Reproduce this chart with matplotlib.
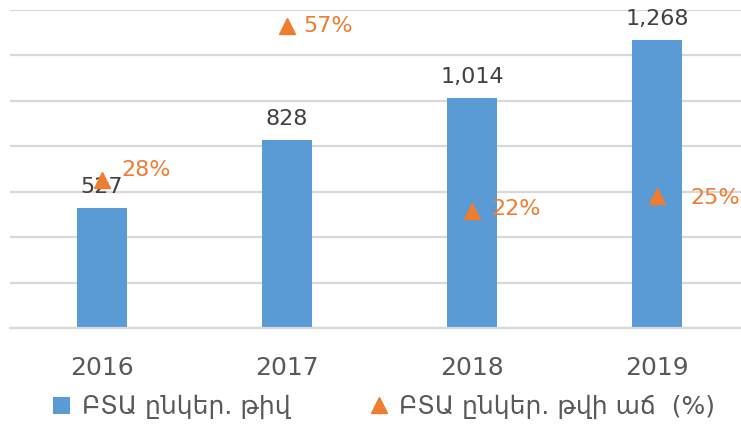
import matplotlib
matplotlib.use("Agg")
import matplotlib.pyplot as plt
from matplotlib.lines import Line2D
from matplotlib.patches import Patch

years = ["2016", "2017", "2018", "2019"]
company_count = [527, 828, 1014, 1268]
growth_pct = [28, 57, 22, 25]

bar_label = "ԲՏԱ ընկեր. թիվ"
growth_label = "ԲՏԱ ընկեր. թվի աճ  (%)"

BLUE = "#5B9BD5"
ORANGE = "#ED7D31"
GRID = "#D9D9D9"

plt.rcParams["font.family"] = ["DejaVu Sans"]

fig = plt.figure(figsize=(7.41, 4.28), dpi=100)
ax = fig.add_axes([9.5 / 741, 1 - 328 / 428, 740 / 741, 318 / 428])
ax2 = ax.twinx()

x = list(range(len(years)))
ax.bar(x, company_count, width=0.27, color=BLUE, zorder=2)
ax.set_xlim(-0.5, len(years) - 0.5)
ax.set_ylim(0, 1400)
ax.set_yticks(range(0, 1401, 200))
ax.yaxis.grid(True, color=GRID, linewidth=1.6, zorder=0)
ax.set_axisbelow(True)
ax.tick_params(axis="y", left=False, labelleft=False)
ax.set_xticks(x)
ax.set_xticklabels(years, fontsize=18, color="#595959")
ax.tick_params(axis="x", length=0, pad=20)
for side in ("top", "right", "left"):
    ax.spines[side].set_visible(False)
ax.spines["bottom"].set_color(GRID)
ax.spines["bottom"].set_linewidth(1.6)

for xi, v in zip(x, company_count):
    ax.annotate(f"{v:,}", (xi, v), xytext=(0, 15), textcoords="offset points",
                ha="center", va="center", fontsize=16, color="#404040")

ax2.plot(x, growth_pct, linestyle="none", marker="^", markersize=12,
         color=ORANGE, zorder=3)
ax2.set_ylim(0, 60)
ax2.axis("off")

pct_offsets = [(14, 7), (12, 0), (14, 2), (24, -2)]
for xi, v, (dx, dy) in zip(x, growth_pct, pct_offsets):
    ax2.annotate(f"{v}%", (xi, v), xytext=(dx, dy), textcoords="offset points",
                 ha="left", va="center", fontsize=16, color=ORANGE)

handles = [
    Patch(facecolor=BLUE, edgecolor="none"),
    Line2D([], [], linestyle="none", marker="^", markersize=11, color=ORANGE),
]
fig.legend(handles, [bar_label, growth_label], loc="center",
           bbox_to_anchor=(0.518, 1 - 407 / 428), ncol=2, frameon=False,
           fontsize=18, labelcolor="#595959", handlelength=0.7,
           handleheight=0.7, handletextpad=0.45, columnspacing=3.2)

fig.savefig("out.png", dpi=100)
